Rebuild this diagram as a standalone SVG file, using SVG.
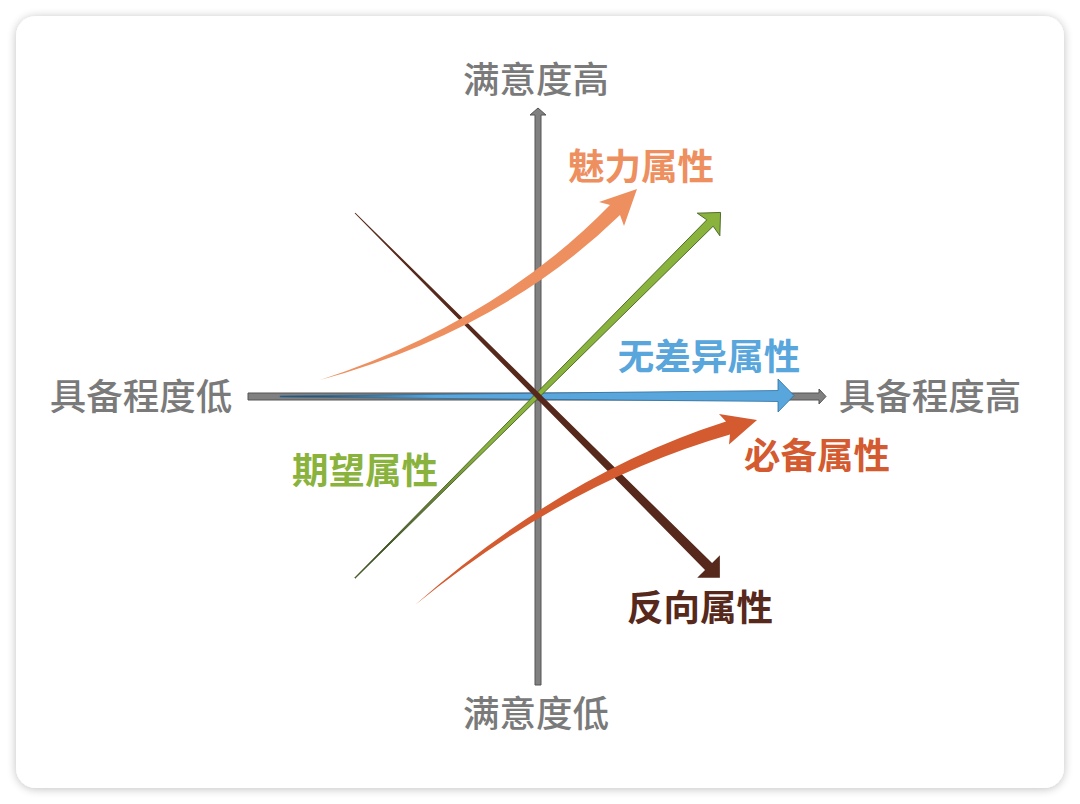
<svg xmlns="http://www.w3.org/2000/svg" width="1080" height="804" viewBox="0 0 1080 804">
<defs>
<filter id="sh" x="-5%" y="-5%" width="110%" height="110%">
<feGaussianBlur in="SourceAlpha" stdDeviation="5"/>
<feOffset dx="0" dy="1" result="b"/>
<feComponentTransfer><feFuncA type="linear" slope="0.25"/></feComponentTransfer>
<feMerge><feMergeNode/><feMergeNode in="SourceGraphic"/></feMerge>
</filter>
<linearGradient id="gG" x1="0" y1="0" x2="1" y2="0">
<stop offset="0" stop-color="#333"/><stop offset="0.35" stop-color="#8AB33E"/><stop offset="1" stop-color="#8AB33E"/>
</linearGradient>
<linearGradient id="gB" x1="0" y1="0" x2="1" y2="0">
<stop offset="0" stop-color="#333"/><stop offset="0.3" stop-color="#58A6DC"/><stop offset="1" stop-color="#58A6DC"/>
</linearGradient>
</defs>
<style>
text{font-family:"Noto Sans CJK SC","Noto Sans",sans-serif;font-size:36.5px;text-anchor:middle;dominant-baseline:central}
.ax{fill:#7a7a7a;font-weight:500}
.lb{font-weight:700}
.axis{fill:#808080;stroke:#555;stroke-width:1}
</style>
<rect width="1080" height="804" fill="#ffffff"/>
<rect x="16" y="16" width="1048" height="772" rx="20" fill="#ffffff" filter="url(#sh)"/>
<g id="connectors">
<g id="axis-v"><polygon class="axis" points="535,685 535,115 530,115 538,108 546,115 541,115 541,685"/></g>
<g id="axis-h"><polygon class="axis" points="248,393 819,393 819,389 826,396.5 819,404 819,400 248,400"/></g>
<g id="arrow-blue"><polygon points="280,396 778,390.5 778,379 794,395.5 778,412 778,401.5 280,397" fill="url(#gB)" stroke="#2f6f9f" stroke-width="0.8"/></g>
<g id="arrow-green" transform="translate(355,578) rotate(-45)"><polygon points="0,-0.3 502,-4.5 500,-16 517,0 500,16 502,4.5 0,0.3" fill="url(#gG)" stroke="#3d5a1a" stroke-width="0.8"/></g>
<g id="arrow-brown" transform="translate(355,213) rotate(45)"><polygon points="0,-0.5 500,-5 500,-16 516,0 500,16 500,5 0,0.5" fill="#56291C"/></g>
<g id="arrow-orange"><path d="M320,380 Q496,322 610,205 L599,202 L637,189 L624,226 L620,215 Q502,330 320,380 Z" fill="#EE8F5F"/></g>
<g id="arrow-red"><path d="M415,605 Q564,473 726,421.5 L719,414 L757,420 L729,444.5 L730,434.5 Q568,481 415,605 Z" fill="#D45A30"/></g>
</g>
<g id="label-top"><text class="ax" x="536" y="77">满意度高</text></g>
<g id="label-bottom"><text class="ax" x="536" y="711">满意度低</text></g>
<g id="label-left"><text class="ax" x="141" y="394">具备程度低</text></g>
<g id="label-right"><text class="ax" x="930" y="394">具备程度高</text></g>
<g id="label-charm"><text class="lb" x="641" y="164" fill="#EE8F5F">魅力属性</text></g>
<g id="label-indiff"><text class="lb" x="709" y="354" fill="#58A6DC">无差异属性</text></g>
<g id="label-must"><text class="lb" x="817" y="453" fill="#D45A30">必备属性</text></g>
<g id="label-expect"><text class="lb" x="365" y="468" fill="#8AB33E">期望属性</text></g>
<g id="label-reverse"><text class="lb" x="700" y="605" fill="#56291C">反向属性</text></g>
</svg>
